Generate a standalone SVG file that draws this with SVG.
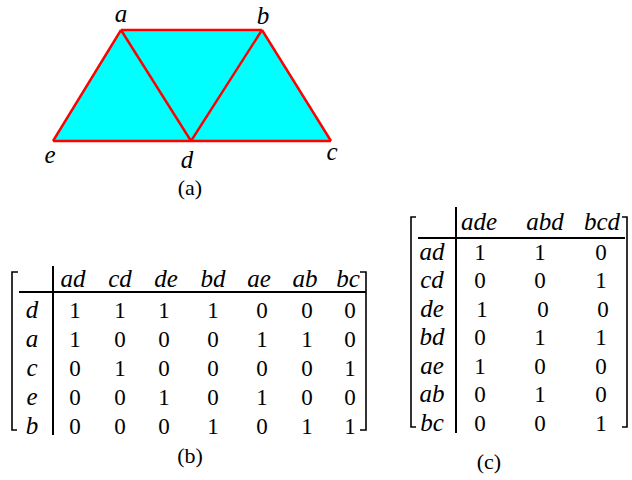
<svg xmlns="http://www.w3.org/2000/svg" width="632" height="480" viewBox="0 0 632 480">
<style>
.it{font-family:"Liberation Serif",serif;font-style:italic;font-size:25px;fill:#000}
.num{font-family:"Liberation Serif",serif;font-size:23px;fill:#000;text-anchor:middle}
.cap{font-family:"Liberation Serif",serif;font-size:22px;fill:#000;text-anchor:middle}
.m{text-anchor:middle}
.ln{stroke:#000;stroke-width:2;fill:none}
.br{stroke:#000;stroke-width:1.6;fill:none}
.edge{stroke:#FF0000;stroke-width:2.4;fill:none;stroke-linejoin:round}
</style>
<rect width="632" height="480" fill="#fff"/>
<g id="graph">
<polygon points="121,30 262,30 331,141 53,141" fill="#00FFFF"/>
<g id="connectors">
<line class="edge" x1="121" y1="30" x2="262" y2="30"/>
<line class="edge" x1="262" y1="30" x2="331" y2="141"/>
<line class="edge" x1="331" y1="141" x2="53" y2="141"/>
<line class="edge" x1="53" y1="141" x2="121" y2="30"/>
<line class="edge" x1="121" y1="30" x2="191" y2="141"/>
<line class="edge" x1="191" y1="141" x2="262" y2="30"/>
</g>
<g id="node-a"><text class="it m" x="121" y="22" font-size="27">a</text></g>
<g id="node-b"><text class="it m" x="263" y="24" font-size="27">b</text></g>
<g id="node-e"><text class="it m" x="50" y="163" font-size="27">e</text></g>
<g id="node-d"><text class="it m" x="187" y="168" font-size="27">d</text></g>
<g id="node-c"><text class="it m" x="332" y="160" font-size="27">c</text></g>
<text class="cap" x="190" y="195">(a)</text>
</g>
<g id="matrix-b">
<path class="br" d="M18,272 H12 V430 H17"/>
<path class="br" d="M360,272 H366 V430 H360"/>
<line class="ln" x1="53" y1="266" x2="53" y2="435"/>
<line class="ln" x1="19" y1="292" x2="366" y2="292"/>
<g class="it m">
<text x="73" y="287">ad</text><text x="120" y="287">cd</text><text x="166" y="287">de</text><text x="213" y="287">bd</text><text x="259" y="287">ae</text><text x="305" y="287">ab</text><text x="348" y="287">bc</text>
<text x="32" y="318">d</text><text x="32" y="347">a</text><text x="32" y="376">c</text><text x="32" y="405">e</text><text x="32" y="434">b</text>
</g>
<g class="num">
<text x="75" y="318">1</text><text x="120" y="318">1</text><text x="164" y="318">1</text><text x="213" y="318">1</text><text x="262" y="318">0</text><text x="307" y="318">0</text><text x="350" y="318">0</text>
<text x="75" y="347">1</text><text x="120" y="347">0</text><text x="164" y="347">0</text><text x="213" y="347">0</text><text x="262" y="347">1</text><text x="307" y="347">1</text><text x="350" y="347">0</text>
<text x="75" y="376">0</text><text x="120" y="376">1</text><text x="164" y="376">0</text><text x="213" y="376">0</text><text x="262" y="376">0</text><text x="307" y="376">0</text><text x="350" y="376">1</text>
<text x="75" y="405">0</text><text x="120" y="405">0</text><text x="164" y="405">1</text><text x="213" y="405">0</text><text x="262" y="405">1</text><text x="307" y="405">0</text><text x="350" y="405">0</text>
<text x="75" y="434">0</text><text x="120" y="434">0</text><text x="164" y="434">0</text><text x="213" y="434">1</text><text x="262" y="434">0</text><text x="307" y="434">1</text><text x="350" y="434">1</text>
</g>
<text class="cap" x="190" y="463">(b)</text>
</g>
<g id="matrix-c">
<path class="br" d="M416,217 H411 V427 H416"/>
<path class="br" d="M622,217 H627 V427 H622"/>
<line class="ln" x1="456" y1="207" x2="456" y2="433"/>
<line class="ln" x1="418" y1="238" x2="625" y2="238"/>
<g class="it m">
<text x="479" y="230">ade</text><text x="545" y="230">abd</text><text x="602" y="230">bcd</text>
<text x="432" y="260">ad</text><text x="432" y="288">cd</text><text x="432" y="317">de</text><text x="432" y="345">bd</text><text x="432" y="374">ae</text><text x="432" y="402">ab</text><text x="432" y="431">bc</text>
</g>
<g class="num">
<text x="480" y="260">1</text><text x="540" y="260">1</text><text x="601" y="260">0</text>
<text x="480" y="288">0</text><text x="540" y="288">0</text><text x="601" y="288">1</text>
<text x="482" y="317">1</text><text x="543" y="317">0</text><text x="603" y="317">0</text>
<text x="480" y="345">0</text><text x="540" y="345">1</text><text x="601" y="345">1</text>
<text x="480" y="374">1</text><text x="540" y="374">0</text><text x="601" y="374">0</text>
<text x="480" y="402">0</text><text x="540" y="402">1</text><text x="601" y="402">0</text>
<text x="480" y="431">0</text><text x="540" y="431">0</text><text x="601" y="431">1</text>
</g>
<text class="cap" x="489" y="469">(c)</text>
</g>
</svg>
